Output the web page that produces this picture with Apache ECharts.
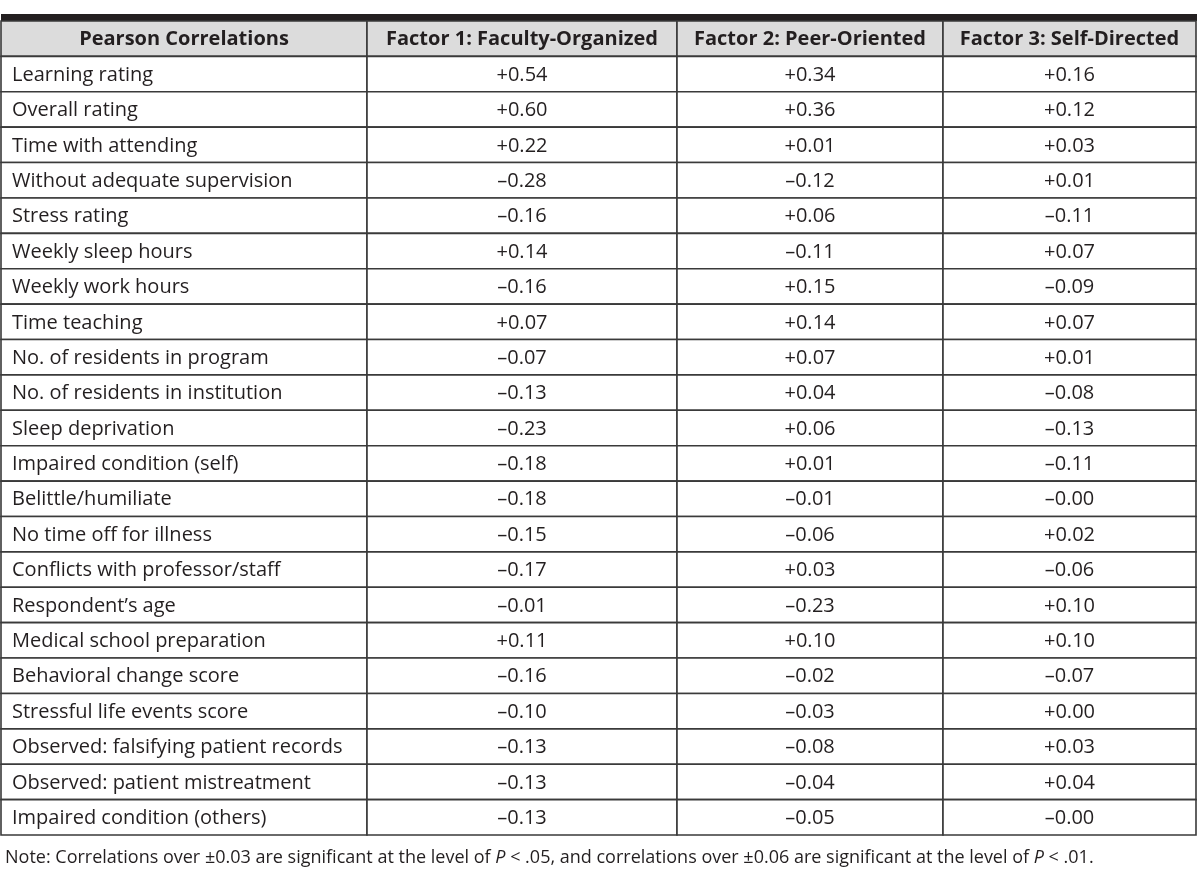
<!DOCTYPE html>
<html>
<head>
<meta charset="utf-8">
<script src="https://cdn.jsdelivr.net/npm/echarts@6/dist/echarts.min.js"></script>
<style>html,body{margin:0;padding:0;background:#fff}#c{width:1200px;height:877px}</style>
</head>
<body>
<div id="c"></div>
<script>
const headers = ['Pearson Correlations', 'Factor 1: Faculty-Organized', 'Factor 2: Peer-Oriented', 'Factor 3: Self-Directed'];
const rowLabels = [
  'Learning rating', 'Overall rating', 'Time with attending', 'Without adequate supervision',
  'Stress rating', 'Weekly sleep hours', 'Weekly work hours', 'Time teaching',
  'No. of residents in program', 'No. of residents in institution', 'Sleep deprivation',
  'Impaired condition (self)', 'Belittle/humiliate', 'No time off for illness',
  'Conflicts with professor/staff', 'Respondent\u2019s age', 'Medical school preparation',
  'Behavioral change score', 'Stressful life events score', 'Observed: falsifying patient records',
  'Observed: patient mistreatment', 'Impaired condition (others)'
];
const factor1 = [0.54, 0.60, 0.22, -0.28, -0.16, 0.14, -0.16, 0.07, -0.07, -0.13, -0.23, -0.18, -0.18, -0.15, -0.17, -0.01, 0.11, -0.16, -0.10, -0.13, -0.13, -0.13];
const factor2 = [0.34, 0.36, 0.01, -0.12, 0.06, -0.11, 0.15, 0.14, 0.07, 0.04, 0.06, 0.01, -0.01, -0.06, 0.03, -0.23, 0.10, -0.02, -0.03, -0.08, -0.04, -0.05];
const factor3 = [0.16, 0.12, 0.03, 0.01, -0.11, 0.07, -0.09, 0.07, 0.01, -0.08, -0.13, -0.11, -0.0, 0.02, -0.06, 0.10, 0.10, -0.07, 0.00, 0.03, 0.04, -0.0];
const noteText = 'Note: Correlations over \u00b10.03 are significant at the level of {i|P} < .05, and correlations over \u00b10.06 are significant at the level of {i|P} < .01.';

function fmt(v) {
  const neg = v < 0 || Object.is(v, -0);
  return (neg ? '\u2013' : '+') + Math.abs(v).toFixed(2);
}

const columns = [rowLabels, factor1.map(fmt), factor2.map(fmt), factor3.map(fmt)];
const edges = [1, 367, 677, 943, 1196];
const tableTop = 21, tableBottom = 835;
const yCats = ['header'].concat(rowLabels);
const FONT = '"Open Sans", "Noto Sans", sans-serif';

const grids = [], xAxes = [], yAxes = [], series = [];
columns.forEach((col, c) => {
  grids.push({ left: edges[c], width: edges[c + 1] - edges[c], top: tableTop, height: tableBottom - tableTop, containLabel: false });
  xAxes.push({ type: 'category', gridIndex: c, data: [headers[c]], show: false });
  yAxes.push({ type: 'category', gridIndex: c, data: yCats, inverse: true, show: false });
  const data = [[0, 0, headers[c], 1]].concat(col.map((t, r) => [0, r + 1, t, 0]));
  series.push({
    type: 'custom',
    xAxisIndex: c, yAxisIndex: c,
    silent: true,
    data: data,
    renderItem: function (params, api) {
      const ctr = api.coord([api.value(0), api.value(1)]);
      const sz = api.size([1, 1]);
      const isHeader = api.value(3) === 1;
      const text = data[params.dataIndex][2];
      const left = ctr[0] - sz[0] / 2, top = ctr[1] - sz[1] / 2;
      const alignLeft = (c === 0 && !isHeader);
      return {
        type: 'group',
        children: [
          { type: 'rect', shape: { x: left, y: top, width: sz[0], height: sz[1] },
            style: { fill: isHeader ? '#dcdcdc' : '#ffffff', stroke: '#3a3a3a', lineWidth: 1.6 } },
          { type: 'text', style: {
              text: text,
              x: alignLeft ? left + 11 : ctr[0],
              y: ctr[1] + 1,
              align: alignLeft ? 'left' : 'center',
              verticalAlign: 'middle',
              font: (isHeader ? 'bold ' : '') + '20px ' + FONT,
              fill: '#231f20'
          } }
        ]
      };
    }
  });
});

const chart = echarts.init(document.getElementById('c'), null, { renderer: 'canvas' });
chart.setOption({
  animation: false,
  backgroundColor: '#ffffff',
  title: {
    text: noteText, left: 0, top: 844,
    textStyle: { fontSize: 18, fontWeight: 'normal', color: '#231f20', fontFamily: FONT,
      rich: { i: { fontStyle: 'italic', fontSize: 18, color: '#231f20', fontFamily: FONT } } }
  },
  graphic: [{ type: 'rect', shape: { x: 1, y: 14, width: 1196, height: 7 }, style: { fill: '#231f20' } }],
  grid: grids, xAxis: xAxes, yAxis: yAxes, series: series
});
</script>
</body>
</html>
